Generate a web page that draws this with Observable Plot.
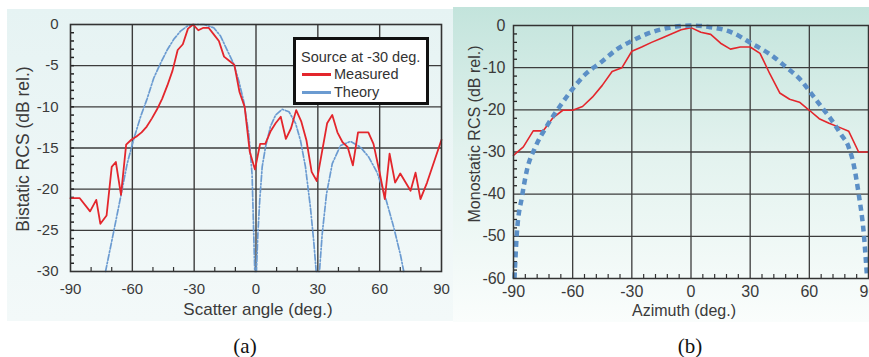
<!DOCTYPE html>
<html>
<head>
<meta charset="utf-8">
<script src="https://cdn.jsdelivr.net/npm/d3@7"></script>
<script src="https://cdn.jsdelivr.net/npm/@observablehq/plot@0.6"></script>
<style>
  html, body { margin: 0; padding: 0; background: #fff; }
  #wrap { position: relative; width: 869px; height: 357px; overflow: hidden; font-family: "Liberation Sans", Arial, sans-serif; color: #3a3a3a; }
  .bgA { position: absolute; left: 7px; top: 9px; width: 446px; height: 312px; background: linear-gradient(#e6f3f3, #f3f9f9); }
  .bgB { position: absolute; left: 453px; top: 7px; width: 416px; height: 315px; background: linear-gradient(#c3e4dc 0%, #e2f2ee 45%, #fafdfc 100%); }
  .plotbox { position: absolute; top: 0; }
  .plotbox svg { max-width: none !important; overflow: visible; }
  .t { position: absolute; white-space: nowrap; transform: translate(-50%, -50%); }
  .tv { position: absolute; white-space: nowrap; transform: translate(-50%, -50%) rotate(-90deg); }
  .cap { position: absolute; white-space: nowrap; transform: translate(-50%, -50%); font-family: "Liberation Serif", "Times New Roman", serif; font-size: 21px; color: #111; }
  #legend { position: absolute; left: 293px; top: 37px; width: 130px; height: 62px; border: 3.5px solid #111; background: #fff; font-size: 14.5px; color: #333; }
  #legend .row { position: absolute; left: 0; white-space: nowrap; }
  #legend .sw { position: absolute; width: 29px; height: 3px; }
</style>
</head>
<body>
<div id="wrap">
  <div class="bgA"></div>
  <div class="bgB"></div>
  <div id="pa" class="plotbox" style="left:0px"></div>
  <div id="pb" class="plotbox" style="left:453px"></div>
  <div id="legend">
    <div class="row" style="left:5px; top:9px">Source at -30 deg.</div>
    <div class="sw" style="left:6px; top:33px; background:#e3262c"></div>
    <div class="row" style="left:38px; top:26px">Measured</div>
    <div class="sw" style="left:6px; top:51px; background:#6b9bd1"></div>
    <div class="row" style="left:38px; top:44px">Theory</div>
  </div>
  <div class="tv" style="left:23px; top:149px; font-size:17.5px">Bistatic RCS (dB rel.)</div>
  <div class="t" style="left:258px; top:310px; font-size:17px">Scatter angle (deg.)</div>
  <div class="tv" style="left:475px; top:134px; font-size:16px">Monostatic RCS (dB rel.)</div>
  <div class="t" style="left:684px; top:311px; font-size:16px">Azimuth (deg.)</div>
  <div class="cap" style="left:245px; top:346px">(a)</div>
  <div class="cap" style="left:690px; top:346px">(b)</div>
</div>
<script>
// ---------- Panel (a): bistatic RCS, source at -30 deg ----------
const measAngleA = [-90, -85.5, -80.5, -77.5, -75.5, -72.5, -70, -68, -65.5, -63, -60.5, -58, -55.5, -53, -50.5, -48, -45.5, -43, -40.5, -38, -35.5, -33, -30.5, -28, -25.5, -23, -20.5, -18, -15.5, -13, -10.5, -8, -5.5, -3, -0.5, 2, 4.5, 7, 9.5, 12, 14.5, 17, 19.5, 22, 24.5, 27, 29.5, 34.5, 37, 39.5, 42, 44.5, 47, 49.5, 54.5, 57, 60, 62.5, 64.8, 67.5, 70, 75, 77.4, 79.8, 83, 90];
const measValueA = [-21.1, -21.1, -22.7, -21.3, -24.2, -23.2, -17.3, -16.7, -20.7, -14.6, -14.0, -13.6, -13.1, -12.4, -11.4, -10.3, -9.0, -7.4, -5.6, -3.1, -2.4, -0.5, 0, -0.7, -0.4, -0.4, -1.2, -2.0, -3.9, -4.4, -4.9, -8.2, -10.0, -15.5, -17.6, -14.5, -14.5, -13.0, -12.0, -11.2, -13.9, -12.6, -10.4, -11.8, -14.1, -17.9, -19.0, -12.0, -11.0, -13.1, -14.3, -14.9, -17.1, -13.1, -13.1, -14.5, -18.0, -21.2, -15.7, -19.2, -18.1, -20.2, -18.0, -21.2, -19.2, -14.0];
const theoAngleA = [-73, -69, -65.4, -62.5, -59.3, -56, -52.8, -49.6, -46.3, -43.1, -39.9, -36.6, -33.4, -30.2, -25.3, -20.5, -17.2, -14, -10.8, -8.3, -5.9, -3.5, -1.9, -0.6, 0.2, 0.9, 1.8, 3, 4.6, 7, 9.5, 12.7, 16, 19.2, 21.6, 24, 26.4, 28, 29.2, 30.8, 32.1, 34.2, 37, 41, 45.8, 50.7, 54.7, 58.8, 62.8, 66.9, 70.1, 71.7];
const theoValueA = [-30, -25.1, -20.6, -16.9, -13.9, -11.2, -9.0, -6.5, -4.7, -3.1, -1.8, -0.8, -0.2, 0, 0, -0.4, -1.4, -3.1, -4.8, -6.9, -9.4, -13.3, -18.2, -30, -30, -25.5, -21.4, -17.3, -14.9, -12.4, -11.0, -10.3, -10.6, -12.0, -14.1, -17.3, -22.2, -26.3, -30, -30, -25.5, -20.6, -16.9, -14.7, -14.2, -14.9, -16.1, -18.0, -21.0, -24.7, -28.0, -30];
const xTicksA = [-90, -60, -30, 0, 30, 60, 90];
const yTicksA = [0, -5, -10, -15, -20, -25, -30];
const xGridA = [-60, -30, 0, 30, 60];
const yGridA = [-5, -10, -15, -20, -25];
const xMinorA = [-80, -70, -50, -40, -20, -10, 10, 20, 40, 50, 70, 80];
const yMinorA = d3.range(-29, 0, 1);

// ---------- Panel (b): monostatic RCS ----------
const measAngleB = [-90, -85, -80, -75, -70, -65, -60, -55, -50, -45, -40, -35, -30, -25, -20, -15, -10, -5, 0, 5, 10, 15, 20, 25, 30, 35, 40, 45, 50, 55, 60, 65, 70, 75, 80, 85, 90];
const measValueB = [-30.8, -28.8, -25, -25, -21.9, -20.1, -20.1, -19.2, -17, -14.2, -10.9, -10, -6.1, -5.1, -4.0, -3.0, -2.0, -1.0, -0.5, -1.6, -2.1, -4.2, -5.6, -5.1, -5.1, -6.6, -11.5, -16.0, -17.5, -18.2, -20.1, -22.1, -23.2, -24.1, -25.1, -30, -30];
const theoAngleB = [-89.5, -88.3, -85.7, -83.2, -78.9, -72.9, -66.1, -60.6, -54.1, -45.6, -37.1, -30.2, -20, -9.7, 0, 9.7, 20, 30.9, 40, 48.3, 55, 61.1, 66, 71.4, 76, 79.9, 82.5, 85, 87.6, 89.3];
const theoValueB = [-60, -49.3, -40.6, -34.3, -28.8, -23.7, -18.9, -15.4, -11.8, -8.7, -5.5, -3.7, -1.6, -0.4, 0, -0.4, -1.5, -4.3, -6.8, -9.9, -12.6, -16.2, -19.2, -22.5, -25.8, -28.8, -33, -39.9, -49.3, -60];
const xTicksB = [-90, -60, -30, 0, 30, 60, 90];
const yTicksB = [0, -10, -20, -30, -40, -50, -60];
const xGridB = [-60, -30, 0, 30, 60];
const yGridB = [-10, -20, -30, -40, -50];
const xMinorB = d3.range(-84, 90, 6).filter(d => d % 30 !== 0);
const yMinorB = d3.range(-58, 0, 2).filter(d => d % 10 !== 0);

const RED = "#e3262c";
const BLUE_A = "#6b9bd1";
const BLUE_B = "#5b8fc6";
const GRID = "#3c3c3c";
const fmt = d => String(d);

// Panel (a)
{
  const W = 452, H = 325, mL = 70, mR = 11, mT = 24, mB = 54;
  const pw = W - mL - mR, ph = H - mT - mB;
  const chart = Plot.plot({
    width: W, height: H, marginLeft: mL, marginRight: mR, marginTop: mT, marginBottom: mB,
    style: {background: "transparent", overflow: "visible", fontFamily: "'Liberation Sans', Arial, sans-serif", color: "#3a3a3a"},
    x: {domain: [-90, 90]},
    y: {domain: [-30, 0]},
    marks: [
      Plot.gridX(xGridA, {stroke: GRID, strokeOpacity: 1, strokeWidth: 1.4}),
      Plot.gridY(yGridA, {stroke: GRID, strokeOpacity: 1, strokeWidth: 1.4}),
      Plot.tickY(yMinorA, {y: d => d, insetRight: pw - 4, stroke: "#222", strokeWidth: 1.5}),
      Plot.tickX(xMinorA, {x: d => d, insetTop: ph - 4, stroke: "#333", strokeWidth: 1.2}),
      Plot.axisX(xTicksA, {tickSize: 0, tickPadding: 12, tickFormat: fmt, fontSize: 15, label: null, fill: "#3a3a3a"}),
      Plot.axisY(yTicksA, {tickSize: 0, tickPadding: 12, tickFormat: fmt, fontSize: 15, label: null, fill: "#3a3a3a"}),
      Plot.line(theoValueA, {x: theoAngleA, y: theoValueA, stroke: BLUE_A, strokeWidth: 1.7, strokeDasharray: "6,2,1.5,2"}),
      Plot.line(measValueA, {x: measAngleA, y: measValueA, stroke: RED, strokeWidth: 1.8}),
      Plot.frame({stroke: "#333", strokeWidth: 1.6})
    ]
  });
  document.getElementById("pa").append(chart);
}

// Panel (b)
{
  const W = 416, H = 325, mL = 60, mR = 1, mT = 25, mB = 47;
  const pw = W - mL - mR, ph = H - mT - mB;
  const chart = Plot.plot({
    width: W, height: H, marginLeft: mL, marginRight: mR, marginTop: mT, marginBottom: mB,
    style: {background: "transparent", overflow: "visible", fontFamily: "'Liberation Sans', Arial, sans-serif", color: "#3a3a3a"},
    x: {domain: [-90, 90]},
    y: {domain: [-60, 0]},
    marks: [
      Plot.gridX(xGridB, {stroke: GRID, strokeOpacity: 1, strokeWidth: 1.3}),
      Plot.gridY(yGridB, {stroke: GRID, strokeOpacity: 1, strokeWidth: 1.3}),
      Plot.tickY(yMinorB, {y: d => d, insetRight: pw - 4, stroke: "#222", strokeWidth: 1.3}),
      Plot.tickX(xMinorB, {x: d => d, insetTop: ph - 4, stroke: "#333", strokeWidth: 1.2}),
      Plot.axisX(xTicksB, {tickSize: 0, tickPadding: 7, tickFormat: fmt, fontSize: 16, label: null, fill: "#3a3a3a"}),
      Plot.axisY(yTicksB, {tickSize: 0, tickPadding: 8, tickFormat: fmt, fontSize: 16, label: null, fill: "#3a3a3a"}),
      Plot.line(measValueB, {x: measAngleB, y: measValueB, stroke: RED, strokeWidth: 1.6}),
      Plot.line(theoValueB, {x: theoAngleB, y: theoValueB, stroke: BLUE_B, strokeWidth: 4.5, strokeDasharray: "6,4.5", strokeLinecap: "butt", curve: "monotone-x"}),
      Plot.frame({stroke: "#333", strokeWidth: 1.5})
    ]
  });
  document.getElementById("pb").append(chart);
}
</script>
</body>
</html>
